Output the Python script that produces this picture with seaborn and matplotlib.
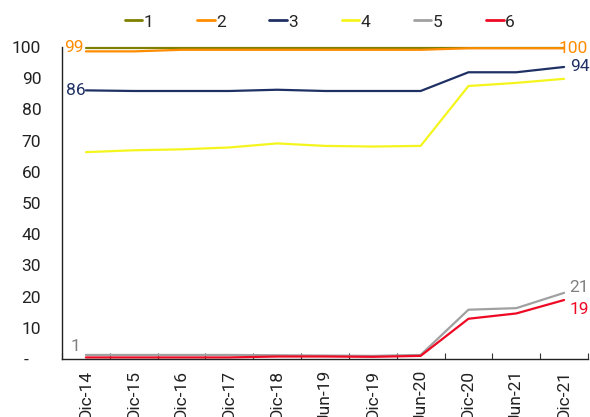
import matplotlib
matplotlib.use("Agg")
import matplotlib.pyplot as plt
from matplotlib.ticker import FixedLocator
import seaborn as sns
import pandas as pd

# Periods on the horizontal axis
periods = ["Dic-14", "Dic-15", "Dic-16", "Dic-17", "Dic-18", "Jun-19",
           "Dic-19", "Jun-20", "Dic-20", "Jun-21", "Dic-21"]

# Series values (percent)
s1 = [99.8, 99.8, 99.8, 99.8, 99.8, 99.8, 99.8, 99.8, 99.8, 99.8, 99.8]
s2 = [98.6, 98.6, 99.1, 99.1, 99.1, 99.1, 99.1, 99.1, 99.6, 99.6, 99.6]
s3 = [86.1, 85.9, 85.9, 85.9, 86.3, 85.9, 85.9, 85.9, 91.9, 91.9, 93.6]
s4 = [66.3, 66.9, 67.2, 67.8, 69.1, 68.3, 68.1, 68.3, 87.5, 88.5, 89.8]
s5 = [1.3, 1.3, 1.3, 1.3, 1.2, 1.1, 1.0, 1.3, 15.8, 16.3, 21.2]
s6 = [0.5, 0.5, 0.5, 0.5, 0.8, 0.8, 0.7, 1.0, 12.9, 14.6, 18.9]

series_names = ["1", "2", "3", "4", "5", "6"]
series_values = [s1, s2, s3, s4, s5, s6]
colors = ["#808000", "#FF8C00", "#1F3064", "#F5F51E", "#A0A0A0", "#EE0A24"]

y_ticks = [0, 10, 20, 30, 40, 50, 60, 70, 80, 90, 100]
y_labels = ["-   ", "10", "20", "30", "40", "50", "60", "70", "80", "90", "100"]

rows = []
for name, vals in zip(series_names, series_values):
    for i, v in enumerate(vals):
        rows.append({"pos": i, "serie": name, "valor": v})
df = pd.DataFrame(rows)

sns.set_theme(style="white")
plt.rcParams["font.family"] = ["Roboto", "DejaVu Sans"]

fig = plt.figure(figsize=(5.9, 4.17), dpi=100)
ax = fig.add_axes([62 / 590, 1 - 359 / 417, (588 - 62) / 590, (359 - 47) / 417])

sns.lineplot(data=df, x="pos", y="valor", hue="serie", palette=colors,
             linewidth=1.6, sort=False, legend=False, ax=ax)
for ln in ax.get_lines():
    ln.set_clip_on(False)

ax.set_xlim(-0.5, len(periods) - 0.5)
ax.set_ylim(0, 100)
ax.set_xlabel("")
ax.set_ylabel("")

# Category labels at centres, tick marks at category boundaries
ax.set_xticks(range(len(periods)))
ax.set_xticklabels(periods, rotation=90, fontsize=12.5, color="#222222")
ax.xaxis.set_minor_locator(FixedLocator([i - 0.5 for i in range(len(periods) + 1)]))
ax.tick_params(axis="x", which="major", length=0, pad=8)
ax.tick_params(axis="x", which="minor", direction="in", length=4, width=0.8,
               color="#333333", bottom=True)

ax.set_yticks(y_ticks)
ax.set_yticklabels(y_labels, fontsize=12.5, color="#222222")
ax.tick_params(axis="y", length=0, pad=15)

for side in ["top", "right"]:
    ax.spines[side].set_visible(False)
for side in ["left", "bottom"]:
    ax.spines[side].set_color("#222222")
    ax.spines[side].set_linewidth(1.0)

# Value labels at the first and last points
last = len(periods) - 1
ax.annotate(f"{s2[0]:.0f}", (0, s2[0]), xytext=(-2, 3), textcoords="offset points",
            ha="right", va="center", fontsize=12.5, color=colors[1])
ax.annotate(f"{s3[0]:.0f}", (0, s3[0]), xytext=(0, 0), textcoords="offset points",
            ha="right", va="center", fontsize=12.5, color=colors[2])
ax.annotate(f"{s5[0]:.0f}", (0, s5[0]), xytext=(-4, 6), textcoords="offset points",
            ha="right", va="center", fontsize=12.5, color="#808080")
ax.annotate(f"{s2[last]:.0f}", (last, s2[last]), xytext=(-4, 0), textcoords="offset points",
            ha="left", va="center", fontsize=12.5, color=colors[1], annotation_clip=False)
ax.annotate(f"{s3[last]:.0f}", (last, s3[last]), xytext=(4, 0), textcoords="offset points",
            ha="left", va="center", fontsize=12.5, color=colors[2], annotation_clip=False)
ax.annotate(f"{s5[last]:.0f}", (last, s5[last]), xytext=(4, 4), textcoords="offset points",
            ha="left", va="center", fontsize=12.5, color="#808080", annotation_clip=False)
ax.annotate(f"{s6[last]:.0f}", (last, s6[last]), xytext=(4, -7), textcoords="offset points",
            ha="left", va="center", fontsize=12.5, color=colors[5], annotation_clip=False)

handles = [plt.Line2D([], [], color=c, linewidth=2) for c in colors]
fig.legend(handles, series_names, loc="center", ncol=6, frameon=False,
           bbox_to_anchor=(320 / 590, 1 - 22 / 417), fontsize=12.5,
           handlelength=1.0, handletextpad=0.1, columnspacing=2.5)

fig.savefig("out.png", dpi=100, facecolor="white")
